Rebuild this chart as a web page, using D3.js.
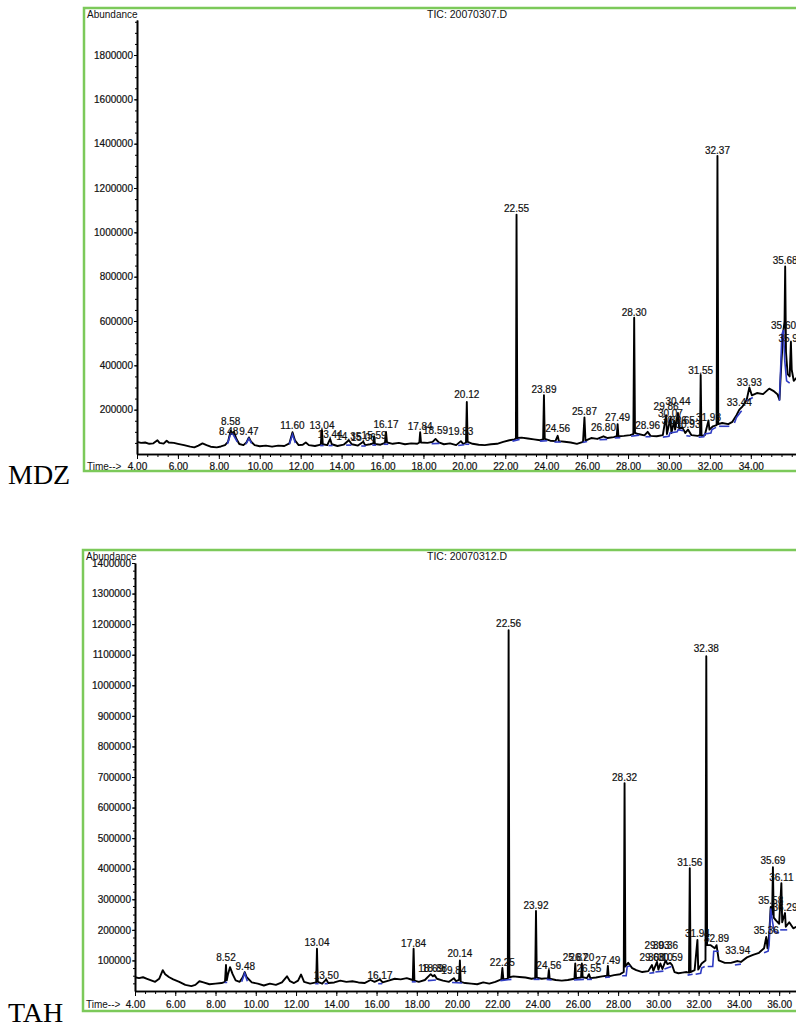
<!DOCTYPE html>
<html>
<head>
<meta charset="utf-8">
<script src="https://cdn.jsdelivr.net/npm/d3@7"></script>
<style>
  body { margin: 0; background: #fff; }
  svg { display: block; }
</style>
</head>
<body>
<div class="graph"></div>
<script>
// tick values
const timeLabelsMDZ = [4, 6, 8, 10, 12, 14, 16, 18, 20, 22, 24, 26, 28, 30, 32, 34];
const timeLabelsTAH = [4, 6, 8, 10, 12, 14, 16, 18, 20, 22, 24, 26, 28, 30, 32, 34, 36];
const abundTicksMDZ = [200000, 400000, 600000, 800000, 1000000, 1200000, 1400000, 1600000, 1800000];
const abundTicksTAH = [100000, 200000, 300000, 400000, 500000, 600000, 700000, 800000, 900000, 1000000, 1100000, 1200000, 1300000, 1400000];

// MDZ total ion chromatogram: [time (min), abundance]
const mdzTrace = [
  [4.00, 55000], [4.20, 50000], [4.40, 52000], [4.60, 46000], [4.80, 48000], [5.00, 62000], [5.10, 50000],
  [5.30, 47000], [5.45, 60000], [5.55, 52000], [5.80, 50000], [6.00, 46000], [6.30, 40000], [6.60, 33000],
  [6.80, 30000], [7.00, 38000], [7.20, 48000], [7.40, 40000], [7.60, 33000], [7.90, 30000], [8.10, 34000],
  [8.30, 40000], [8.45, 55000], [8.58, 105000], [8.66, 95000], [8.74, 100000], [8.85, 70000], [9.00, 45000],
  [9.20, 40000], [9.35, 52000], [9.47, 75000], [9.58, 55000], [9.75, 40000], [10.00, 35000], [10.30, 38000],
  [10.60, 33000], [10.90, 38000], [11.20, 36000], [11.45, 48000], [11.60, 98000], [11.72, 62000], [11.90, 40000],
  [12.10, 42000], [12.25, 52000], [12.40, 40000], [12.70, 36000], [12.98, 42000], [13.04, 108000], [13.08, 44000],
  [13.30, 40000], [13.44, 68000], [13.52, 44000], [13.80, 36000], [14.10, 42000], [14.35, 62000], [14.50, 44000],
  [14.80, 38000], [15.06, 55000], [15.15, 40000], [15.40, 44000], [15.55, 48000], [15.59, 80000], [15.63, 45000],
  [15.90, 42000], [16.12, 50000], [16.17, 100000], [16.22, 52000], [16.50, 46000], [16.80, 50000], [17.10, 44000],
  [17.40, 48000], [17.70, 46000], [17.80, 52000], [17.84, 98000], [17.88, 52000], [18.20, 50000], [18.45, 55000],
  [18.59, 68000], [18.75, 52000], [19.00, 44000], [19.30, 48000], [19.60, 40000], [19.83, 58000], [19.95, 45000],
  [20.08, 52000], [20.12, 235000], [20.16, 55000], [20.40, 46000], [20.70, 42000], [21.00, 40000], [21.30, 44000],
  [21.60, 46000], [21.90, 55000], [22.20, 62000], [22.45, 66000], [22.52, 70000], [22.55, 1080000], [22.59, 72000],
  [22.80, 74000], [23.10, 70000], [23.40, 66000], [23.70, 62000], [23.85, 66000], [23.89, 265000], [23.93, 68000],
  [24.20, 60000], [24.45, 58000], [24.56, 82000], [24.62, 58000], [24.90, 55000], [25.20, 52000], [25.50, 46000],
  [25.80, 55000], [25.87, 165000], [25.92, 60000], [26.20, 72000], [26.50, 68000], [26.80, 80000], [27.00, 72000],
  [27.30, 76000], [27.45, 80000], [27.49, 135000], [27.53, 80000], [27.80, 82000], [28.10, 85000], [28.26, 90000],
  [28.30, 615000], [28.34, 95000], [28.50, 90000], [28.80, 84000], [28.96, 100000], [29.10, 82000], [29.40, 80000],
  [29.70, 85000], [29.86, 175000], [29.90, 90000], [30.07, 160000], [30.12, 95000], [30.26, 150000], [30.30, 110000],
  [30.44, 185000], [30.50, 115000], [30.65, 120000], [30.80, 95000], [30.93, 110000], [31.10, 85000], [31.40, 82000],
  [31.52, 85000], [31.55, 357000], [31.59, 82000], [31.75, 85000], [31.93, 150000], [31.98, 110000], [32.15, 125000],
  [32.33, 130000], [32.37, 1345000], [32.41, 135000], [32.60, 140000], [32.90, 135000], [33.10, 145000], [33.30, 175000],
  [33.44, 200000], [33.60, 215000], [33.80, 245000], [33.93, 300000], [34.05, 265000], [34.30, 275000], [34.60, 270000],
  [34.90, 295000], [35.10, 285000], [35.30, 270000], [35.40, 245000], [35.50, 420000], [35.60, 560000], [35.65, 600000],
  [35.68, 846000], [35.72, 460000], [35.80, 360000], [35.90, 350000], [35.96, 505000], [36.00, 380000], [36.10, 330000],
  [36.25, 345000]
];

// TAH total ion chromatogram: [time (min), abundance]
const tahTrace = [
  [4.00, 45000], [4.20, 42000], [4.40, 45000], [4.60, 40000], [4.80, 35000], [5.00, 30000], [5.20, 40000],
  [5.38, 68000], [5.50, 55000], [5.70, 45000], [5.90, 38000], [6.20, 30000], [6.50, 20000], [6.80, 16000],
  [7.00, 20000], [7.20, 32000], [7.40, 28000], [7.70, 22000], [8.00, 24000], [8.30, 26000], [8.47, 30000],
  [8.52, 85000], [8.56, 35000], [8.62, 55000], [8.72, 78000], [8.85, 55000], [9.00, 35000], [9.20, 30000],
  [9.35, 45000], [9.45, 62000], [9.55, 45000], [9.80, 28000], [10.10, 24000], [10.40, 18000], [10.70, 24000],
  [11.00, 20000], [11.30, 28000], [11.55, 48000], [11.70, 32000], [11.90, 26000], [12.10, 34000], [12.25, 54000],
  [12.40, 30000], [12.70, 24000], [13.00, 28000], [13.04, 138000], [13.08, 30000], [13.30, 24000], [13.50, 38000],
  [13.60, 26000], [13.90, 28000], [14.20, 34000], [14.50, 30000], [14.80, 32000], [15.10, 28000], [15.40, 26000],
  [15.70, 36000], [15.90, 30000], [16.17, 38000], [16.30, 28000], [16.60, 34000], [16.90, 40000], [17.20, 38000],
  [17.50, 42000], [17.80, 36000], [17.84, 138000], [17.88, 34000], [18.10, 30000], [18.40, 36000], [18.69, 55000],
  [18.80, 48000], [18.88, 52000], [19.00, 40000], [19.30, 34000], [19.60, 30000], [19.84, 42000], [19.95, 32000],
  [20.10, 36000], [20.14, 100000], [20.18, 30000], [20.40, 26000], [20.70, 24000], [21.00, 22000], [21.30, 28000],
  [21.60, 24000], [21.90, 30000], [22.20, 38000], [22.25, 75000], [22.30, 38000], [22.52, 40000], [22.56, 1180000],
  [22.60, 45000], [22.80, 48000], [23.10, 46000], [23.40, 44000], [23.70, 40000], [23.88, 42000], [23.92, 262000],
  [23.96, 44000], [24.20, 40000], [24.52, 42000], [24.56, 69000], [24.60, 40000], [24.90, 36000], [25.20, 34000],
  [25.50, 36000], [25.83, 40000], [25.87, 90000], [25.91, 42000], [26.16, 44000], [26.20, 90000], [26.24, 45000],
  [26.45, 42000], [26.55, 55000], [26.62, 42000], [26.90, 44000], [27.20, 48000], [27.45, 50000], [27.49, 82000],
  [27.53, 48000], [27.80, 52000], [28.10, 55000], [28.28, 62000], [28.32, 680000], [28.36, 80000], [28.50, 92000],
  [28.70, 75000], [28.90, 68000], [29.20, 62000], [29.50, 65000], [29.68, 85000], [29.75, 66000], [29.93, 95000],
  [30.00, 70000], [30.10, 90000], [30.20, 72000], [30.36, 100000], [30.45, 88000], [30.59, 92000], [30.68, 85000],
  [30.80, 62000], [31.00, 58000], [31.20, 60000], [31.40, 62000], [31.52, 60000], [31.56, 402000], [31.60, 62000],
  [31.80, 68000], [31.94, 167000], [31.98, 70000], [32.15, 90000], [32.34, 100000], [32.38, 1095000], [32.42, 150000],
  [32.60, 150000], [32.80, 140000], [32.89, 150000], [33.00, 100000], [33.30, 92000], [33.60, 92000], [33.94, 98000],
  [34.10, 95000], [34.40, 110000], [34.70, 118000], [35.00, 125000], [35.25, 140000], [35.36, 177000], [35.42, 140000],
  [35.50, 180000], [35.58, 275000], [35.65, 250000], [35.69, 405000], [35.73, 240000], [35.85, 230000], [36.00, 220000],
  [36.11, 353000], [36.15, 225000], [36.29, 255000], [36.33, 210000], [36.50, 225000], [36.70, 205000], [36.85, 210000]
];

// peak labels: [retention time text, abundance level of the label baseline]
const mdzLabels = [
  ["8.58", 131000], ["8.48", 86000], ["9.47", 86000], ["11.60", 113000], ["13.04", 113000], ["13.44", 72000],
  ["14.35", 63000], ["15.06", 59000], ["15.59", 68000], ["16.17", 117000], ["17.84", 108000], ["18.59", 90000],
  ["19.83", 86000], ["20.12", 253000], ["22.55", 1092000], ["23.89", 275000], ["24.56", 99000], ["25.87", 176000],
  ["26.80", 104000], ["27.49", 149000], ["28.30", 623000], ["28.96", 113000], ["29.86", 199000], ["30.44", 221000],
  ["30.07", 167000], ["30.26", 135000], ["30.65", 135000], ["30.93", 117000], ["31.55", 361000], ["31.93", 149000],
  ["32.37", 1353000], ["33.44", 217000], ["33.93", 307000], ["35.68", 857000], ["35.60", 564000], ["35.96", 505000]
];
const tahLabels = [
  ["8.52", 98000], ["9.48", 69000], ["13.04", 147000], ["13.50", 39000], ["16.17", 39000], ["17.84", 144000],
  ["18.69", 62000], ["18.88", 62000], ["19.84", 56000], ["20.14", 111000], ["22.25", 82000], ["22.56", 1191000],
  ["23.92", 268000], ["24.56", 72000], ["25.87", 98000], ["26.20", 98000], ["26.55", 62000], ["27.49", 88000],
  ["28.32", 687000], ["29.93", 137000], ["30.36", 137000], ["29.68", 98000], ["30.10", 98000], ["30.59", 98000],
  ["31.56", 409000], ["31.94", 177000], ["32.38", 1109000], ["32.89", 160000], ["33.94", 121000], ["35.36", 186000],
  ["35.58", 285000], ["35.69", 415000], ["36.11", 360000], ["36.29", 262000]
];

// integration baselines (blue)
const mdzBaselines = [
  [[8.42, 45000], [8.58, 92000], [8.70, 88000], [8.90, 55000]],
  [[9.32, 45000], [9.47, 70000], [9.60, 48000]],
  [[11.45, 44000], [11.60, 88000], [11.74, 50000]],
  [[12.95, 38000], [13.12, 38000]], [[13.36, 38000], [13.56, 38000]],
  [[14.22, 40000], [14.48, 40000]], [[14.96, 36000], [15.18, 36000]],
  [[15.50, 40000], [15.68, 40000]], [[16.06, 44000], [16.28, 44000]],
  [[18.40, 46000], [18.78, 48000]], [[19.70, 38000], [20.00, 42000]], [[20.04, 44000], [20.24, 44000]],
  [[22.35, 58000], [22.70, 66000]], [[23.70, 58000], [24.05, 60000]], [[24.40, 54000], [24.72, 54000]],
  [[25.78, 52000], [26.00, 56000]], [[26.60, 64000], [26.98, 66000]], [[27.35, 72000], [27.62, 74000]],
  [[28.15, 80000], [28.55, 85000]], [[28.85, 78000], [29.10, 78000]],
  [[29.70, 76000], [30.00, 80000], [30.05, 95000], [30.40, 100000], [30.45, 110000], [30.70, 105000]],
  [[30.85, 82000], [31.05, 80000]],
  [[31.45, 76000], [31.70, 78000], [31.75, 90000], [32.05, 95000], [32.10, 110000], [32.30, 120000]],
  [[32.45, 125000], [32.95, 125000]],
  [[33.20, 140000], [33.30, 165000], [33.55, 195000]],
  [[33.80, 240000], [34.10, 255000]],
  [[35.40, 240000], [35.52, 540000], [35.60, 560000], [35.66, 420000], [35.75, 330000], [35.90, 320000]]
];
const tahBaselines = [
  [[8.45, 28000], [8.58, 28000]],
  [[9.30, 30000], [9.45, 58000], [9.58, 32000]],
  [[12.95, 24000], [13.12, 24000]], [[13.42, 24000], [13.58, 24000]], [[16.08, 24000], [16.28, 24000]],
  [[17.75, 30000], [17.95, 30000]], [[18.55, 34000], [18.95, 36000]], [[19.75, 28000], [20.25, 26000]],
  [[22.15, 34000], [22.70, 38000]], [[23.80, 38000], [24.10, 38000]], [[24.45, 38000], [24.70, 36000]],
  [[25.80, 36000], [26.30, 38000]], [[26.45, 38000], [26.70, 38000]], [[27.35, 44000], [27.60, 46000]],
  [[28.20, 50000], [28.40, 50000], [28.45, 80000], [28.60, 82000]],
  [[29.55, 58000], [29.80, 60000]], [[29.85, 62000], [30.25, 65000]], [[30.30, 72000], [30.65, 80000]],
  [[31.45, 52000], [31.70, 55000]],
  [[31.85, 55000], [32.10, 58000], [32.15, 75000], [32.30, 80000]],
  [[32.45, 80000], [32.70, 80000], [32.75, 130000], [33.00, 130000]],
  [[33.80, 85000], [34.10, 88000]],
  [[35.25, 125000], [35.45, 130000], [35.50, 150000], [35.58, 270000], [35.66, 230000], [35.75, 195000], [36.00, 190000]],
  [[36.05, 200000], [36.40, 200000]]
];

const sans = '"Liberation Sans", Arial, sans-serif';

const svg = d3.select('.graph')
  .append('svg')
  .attr('width', 796)
  .attr('height', 1025);

function drawChart(c) {
  const g = svg.append('g');

  // green frame (right side runs off the page)
  g.append('rect')
    .attr('x', c.left).attr('y', c.top)
    .attr('width', 900).attr('height', c.bottom - c.top)
    .attr('fill', 'none')
    .attr('stroke', '#7cc95a')
    .attr('stroke-width', 2.5);

  const x = d3.scaleLinear().domain(c.xDomain).range(c.xRange);
  const y = d3.scaleLinear().domain(c.yDomain).range(c.yRange);

  // minor + major x ticks
  const minorT = d3.range(4, c.xDomain[1], 0.5);
  g.append('g')
    .attr('transform', `translate(0,${c.yRange[0]})`)
    .call(d3.axisBottom(x).tickValues(minorT).tickSize(3).tickSizeOuter(0).tickFormat(''));
  g.append('g')
    .attr('class', 'x-axis')
    .attr('transform', `translate(0,${c.yRange[0]})`)
    .call(d3.axisBottom(x).tickValues(c.timeTicks).tickSize(5).tickPadding(c.xPad).tickSizeOuter(0)
      .tickFormat(d3.format('.2f')));

  // y ticks
  const minorA = d3.range(c.yMinor, c.yDomain[1], c.yMinor);
  g.append('g')
    .attr('transform', `translate(${c.xRange[0]},0)`)
    .call(d3.axisLeft(y).tickValues(minorA).tickSize(2).tickSizeOuter(0).tickFormat(''));
  g.append('g')
    .attr('class', 'y-axis')
    .attr('transform', `translate(${c.xRange[0]},0)`)
    .call(d3.axisLeft(y).tickValues(c.yTicks).tickSize(3).tickPadding(1).tickSizeOuter(0)
      .tickFormat(d3.format('d')));

  g.selectAll('.domain').attr('stroke', '#000').attr('stroke-width', 1.6);
  g.selectAll('.tick line').attr('stroke', '#000').attr('stroke-width', 1);
  g.selectAll('.tick text')
    .attr('font-family', sans)
    .attr('font-size', 10)
    .attr('fill', '#111')
    .attr('stroke', '#111')
    .attr('stroke-width', 0.2);

  const line = d3.line()
    .x(d => x(d[0]))
    .y(d => y(d[1]));

  // chromatogram
  g.append('path')
    .datum(c.trace)
    .attr('d', line)
    .attr('fill', 'none')
    .attr('stroke', '#000')
    .attr('stroke-width', 1.9)
    .attr('stroke-linejoin', 'round');

  // integration baselines
  g.selectAll('.base')
    .data(c.baselines)
    .enter()
    .append('path')
    .attr('class', 'base')
    .attr('d', line)
    .attr('fill', 'none')
    .attr('stroke', '#2f3cc4')
    .attr('stroke-width', 1.6);

  // peak labels
  g.selectAll('.peak')
    .data(c.labels)
    .enter()
    .append('text')
    .attr('class', 'peak')
    .attr('x', d => x(+d[0]))
    .attr('y', d => y(d[1]))
    .attr('text-anchor', 'middle')
    .attr('font-family', sans)
    .attr('font-size', 10)
    .attr('fill', '#111')
    .attr('stroke', '#111')
    .attr('stroke-width', 0.2)
    .text(d => d[0]);

  g.append('text')
    .attr('x', c.left + 3).attr('y', c.top + 10)
    .attr('font-family', sans)
    .attr('font-size', 10).attr('fill', '#111')
    .text('Abundance');

  g.append('text')
    .attr('x', 467).attr('y', c.top + 10)
    .attr('text-anchor', 'middle')
    .attr('font-family', sans)
    .attr('font-size', 10.5).attr('fill', '#111')
    .text(c.title);

  g.append('text')
    .attr('x', c.left + 3).attr('y', c.yRange[0] + 16 + (c.xPad - 4))
    .attr('font-family', sans)
    .attr('font-size', 10).attr('fill', '#111')
    .text('Time-->');

  svg.append('text')
    .attr('x', 8).attr('y', c.nameY)
    .attr('font-family', '"Liberation Serif", "Times New Roman", serif')
    .attr('font-size', 28)
    .attr('fill', '#000')
    .text(c.name);
}

drawChart({
  name: 'MDZ', title: 'TIC: 20070307.D', nameY: 484,
  left: 84, top: 8, bottom: 471,
  xDomain: [4, 36.3], xRange: [137, 137 + 32.3 * 20.46], xPad: 4,
  yDomain: [0, 1958000], yRange: [454, 20],
  yTicks: abundTicksMDZ, yMinor: 50000, timeTicks: timeLabelsMDZ,
  trace: mdzTrace, labels: mdzLabels, baselines: mdzBaselines
});

drawChart({
  name: 'TAH', title: 'TIC: 20070312.D', nameY: 1022,
  left: 83, top: 550, bottom: 1011,
  xDomain: [4, 36.9], xRange: [135, 135 + 32.9 * 20.13], xPad: 5,
  yDomain: [0, 1400000], yRange: [991, 563],
  yTicks: abundTicksTAH, yMinor: 25000, timeTicks: timeLabelsTAH,
  trace: tahTrace, labels: tahLabels, baselines: tahBaselines
});
</script>
</body>
</html>
